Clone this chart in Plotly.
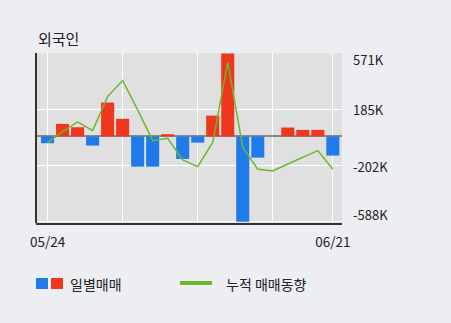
import plotly.graph_objects as go

dates = ["05/24", "05/27", "05/28", "05/29", "05/30", "05/31", "06/03", "06/04",
         "06/05", "06/07", "06/10", "06/11", "06/12", "06/13", "06/14", "06/17",
         "06/18", "06/19", "06/20", "06/21"]
daily = [-47, 86, 63, -63, 233, 121, -208, -208, 15, -155, -43, 143, 571, -588,
         -146, 0, 61, 45, 45, -132]            # thousands of shares
cumulative = [-43, 33, 100, 40, 274, 385, 183, -29, -13, -162, -208, -42, 509,
              -75, -226, -238, -190, -145, -98, -226]  # thousands of shares
y_ticks = [571, 185, -202, -588]
y_tick_labels = ["571K", "185K", "-202K", "-588K"]
x_tick_idx = [0, 5, 10, 15, 19]

W, H = 451, 323
L, R, T, B = 36, 342, 53, 223
FONT = "Noto Sans CJK KR"
RED, BLUE, GREEN = "#f0361c", "#1f7bea", "#6bb82e"
# pixel centres of the right-hand labels (they are nudged inside the plot box)
label_py = [59, 109.5, 166.5, 214]


def px(x):
    return (x - L) / (R - L)


def py(y):
    return (B - y) / (B - T)


fig = go.Figure()
fig.add_trace(go.Bar(
    x=dates, y=daily,
    marker=dict(color=[RED if v >= 0 else BLUE for v in daily], line=dict(width=0)),
    showlegend=False, hoverinfo="x+y",
))
fig.add_trace(go.Scatter(
    x=dates, y=cumulative, mode="lines",
    line=dict(color=GREEN, width=1.5), showlegend=False,
))

shapes = [
    dict(type="rect", xref="paper", yref="paper", x0=px(36), x1=px(48), y0=py(289), y1=py(278),
         fillcolor=BLUE, line=dict(width=0)),
    dict(type="rect", xref="paper", yref="paper", x0=px(51), x1=px(63), y0=py(289), y1=py(278),
         fillcolor=RED, line=dict(width=0)),
    dict(type="line", xref="paper", yref="paper", x0=px(180), x1=px(212), y0=py(283), y1=py(283),
         line=dict(color=GREEN, width=4)),
    dict(type="line", xref="paper", yref="paper", x0=0, x1=0, y0=0, y1=1,
         line=dict(color="#333333", width=2)),
]
annotations = [
    dict(text="외국인", xref="paper", yref="paper", x=px(36), y=py(38.5), xanchor="left",
         yanchor="middle", showarrow=False, font=dict(size=15, color="#222", family=FONT)),
    dict(text="일별매매", xref="paper", yref="paper", x=px(68), y=py(283.5), xanchor="left",
         yanchor="middle", showarrow=False, font=dict(size=14, color="#222", family=FONT)),
    dict(text="누적 매매동향", xref="paper", yref="paper", x=px(224), y=py(283.5), xanchor="left",
         yanchor="middle", showarrow=False, font=dict(size=14, color="#222", family=FONT)),
]
for lab, ypix in zip(y_tick_labels, label_py):
    annotations.append(dict(text=lab, xref="paper", yref="paper", x=px(351), y=py(ypix),
                            xanchor="left", yanchor="middle", showarrow=False,
                            font=dict(size=13, color="#222", family=FONT)))

fig.update_layout(
    width=W, height=H,
    margin=dict(l=L, r=W - R, t=T, b=H - B, pad=0),
    paper_bgcolor="#eceef2", plot_bgcolor="#e0e0e0",
    bargap=0.13,
    shapes=shapes, annotations=annotations,
    font=dict(family=FONT, size=13, color="#222"),
    xaxis=dict(
        type="category", range=[-0.77, 19.61],
        tickmode="array", tickvals=[dates[i] for i in x_tick_idx],
        ticktext=[dates[0], "", "", "", dates[-1]],
        showgrid=True, gridcolor="#ffffff", gridwidth=1,
        showline=True, linecolor="#333333", linewidth=2,
        ticks="", ticklabelstandoff=6, tickfont=dict(size=13.5),
    ),
    yaxis=dict(
        range=[-596, 574], side="right",
        tickmode="array", tickvals=y_ticks, showticklabels=False,
        showgrid=True, gridcolor="#ffffff", gridwidth=1,
        zeroline=True, zerolinecolor="#888888", zerolinewidth=2,
        showline=False, ticks="",
    ),
)

fig.write_html("out.html")
